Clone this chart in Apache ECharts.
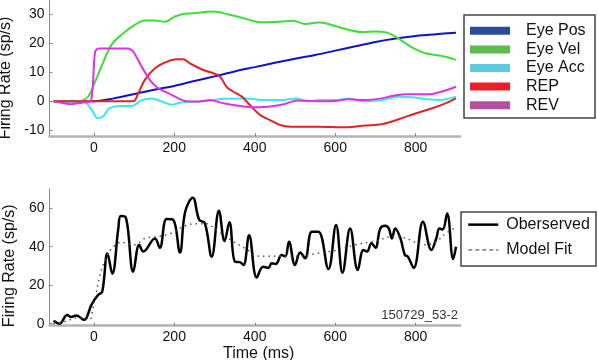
<!DOCTYPE html>
<html>
<head>
<meta charset="utf-8">
<script src="https://cdn.jsdelivr.net/npm/echarts@6/dist/echarts.min.js"></script>
<style>
  html, body { margin: 0; padding: 0; background: #fff; }
  #chart { width: 598px; height: 360px; }
</style>
</head>
<body>
<div id="chart"></div>
<script>
// tick labels
const xTicks = [0, 200, 400, 600, 800];
const topTicks = [-10, 0, 10, 20, 30];
const bottomTicks = [0, 20, 40, 60];

// top panel: kinematic components (time in ms, value in sp/s)
const eyePosT = [-100, 0, 50, 100, 150, 200, 250, 300, 350, 400, 450, 500, 550, 600, 650, 700, 750, 800, 850, 900];
const eyePosV = [0, 0, 1, 2.5, 4, 5.3, 7, 8.6, 10.3, 11.8, 13.3, 14.7, 16, 17.5, 19, 20.5, 21.7, 22.6, 23.2, 23.7];

const eyeVelT = [-100, -39, -14, -2, 19, 44, 69, 102, 127, 152, 177, 202, 222, 247, 297, 338, 380, 413, 463, 496, 525, 558, 583, 633, 666, 700, 724, 749, 774, 799, 824, 849, 874, 900];
const eyeVelV = [0, 0, 1.6, 5, 12, 19.5, 23, 26.4, 27.9, 27.9, 27.5, 29.3, 30.2, 30.4, 31, 29.9, 28.4, 27.3, 27.5, 27.8, 26.7, 27.2, 26.7, 24.7, 23.9, 24.1, 23.9, 22.4, 20.1, 18, 16.6, 16, 15.4, 14.3];

const eyeAccT = [-100, -39, -22, -5, 11, 23, 39, 69, 94, 119, 144, 169, 194, 219, 264, 297, 322, 380, 422, 463, 505, 530, 558, 600, 633, 674, 716, 758, 791, 824, 857, 900];
const eyeAccV = [0, 0, -0.3, -3, -5.9, -5.3, -2.4, -1.6, -1.6, 0.4, 1, -0.1, -1.2, -0.3, -0.1, 0.4, 0.9, 1, 0.4, 0.4, 1, -0.1, 0.4, 0.4, 1, -0.1, 0.4, 1.6, 1.4, 0.8, 0.4, 1.6];

const repT = [-100, 0, 98, 110, 127, 152, 177, 206, 222, 239, 272, 297, 314, 330, 347, 368, 388, 413, 438, 463, 488, 530, 558, 625, 674, 716, 758, 799, 841, 874, 900];
const repV = [0, 0, 0, 2.6, 7.4, 11.4, 13.4, 14.5, 14.5, 13.1, 10.8, 9.7, 8.5, 5, 3.3, 1.6, -1.3, -4.7, -6.5, -8.2, -8.8, -8.8, -8.8, -9, -8.4, -7.9, -6.2, -4.2, -2.4, -0.7, 1];

const revT = [-100, -56, -31, -8, -3, 3, 11, 85, 98, 119, 139, 160, 185, 210, 230, 260, 289, 322, 363, 405, 447, 472, 505, 555, 600, 633, 674, 716, 741, 774, 816, 841, 874, 900];
const revV = [0, -1, -0.5, 0, 4, 17, 18.2, 18.2, 17.2, 12, 7.4, 4.5, 2.8, 1, 0, -0.1, 0.4, -0.7, -1.6, -2.1, -1.6, -1, 0.3, 0, 0.1, 0.7, 0.4, 1, 1.8, 2.4, 2.4, 2.5, 3.7, 5];

// bottom panel: observed firing rate and model fit
const obsT = [-100, -85, -66, -56, -43, -24, -18, -6, 11, 21, 34, 46, 61, 67, 79, 98, 113, 123, 152, 164, 181, 197, 214, 227, 246, 262, 276, 293, 311, 325, 337, 351, 363, 372, 386, 405, 421, 434, 442, 452, 467, 476, 485, 500, 513, 525, 542, 558, 583, 602, 618, 637, 656, 670, 679, 690, 700, 712, 724, 733, 741, 749, 762, 773, 780, 795, 818, 839, 851, 859, 867, 878, 893, 900];
const obsV = [1.5, 0, 4.5, 3.5, 4.3, 2, 3, 9.7, 15, 16.6, 36.5, 26, 49.5, 56, 55.5, 27, 41, 37.5, 44.3, 39.5, 54.4, 54, 37, 58, 65.5, 54, 52.3, 34.8, 58.7, 43, 52.7, 32.2, 32, 30.5, 46, 24, 29.6, 29, 31.4, 31, 35.7, 35, 42.6, 30.5, 37, 34, 47.8, 47.8, 28.4, 51.3, 26.5, 49.5, 27.9, 38.3, 37.5, 41.8, 39.5, 49.5, 50.9, 49.5, 44.3, 49.5, 44.3, 35.7, 35, 29, 53, 38.3, 44.3, 49.5, 49, 57.3, 33.6, 40];

const fitT = [-100, -80, -60, -40, -20, -10, -3, 6, 15, 26, 44, 69, 102, 127, 160, 193, 218, 250, 280, 300, 340, 381, 414, 464, 505, 555, 600, 650, 700, 749, 780, 820, 850, 875, 900];
const fitV = [0, 0.5, 2, 3, 2.5, 2, 7, 16, 25, 32, 39, 42.3, 41, 44.3, 45.3, 47, 50, 52, 52, 49.5, 43.6, 38.5, 35, 35, 35, 36.5, 38, 41, 43, 45.6, 44, 41, 42.5, 47, 50];

const pairs = (t, v) => t.map((x, i) => [x, v[i]]);

const font = 'Liberation Sans, Arial, Helvetica, sans-serif';
const chart = echarts.init(document.getElementById('chart'), null, { renderer: 'canvas' });

const xAxisBase = {
    type: 'value',
    min: -110,
    max: 910,
    axisLine: { show: true, onZero: false, lineStyle: { color: '#b4b4b4', width: 2.5 } },
    axisTick: { show: true, inside: true, length: 3, customValues: xTicks, lineStyle: { color: '#888' } },
    axisLabel: { customValues: xTicks, color: '#111', fontSize: 14, fontFamily: font, margin: 5 },
    splitLine: { show: false }
};

const yAxisBase = {
    type: 'value',
    nameLocation: 'middle',
    name: 'Firing Rate (sp/s)',
    nameRotate: 90,
    axisLine: { show: true, onZero: false, lineStyle: { color: '#888', width: 1 } },
    splitLine: { show: false }
};

const lineBase = { type: 'line', showSymbol: false, symbol: 'none', smooth: 0.35 };

const option = {
    animation: false,
    backgroundColor: '#fff',
    grid: [
        { left: 49.5, top: 0, width: 410.5, height: 136, outerBoundsMode: 'none' },
        { left: 49.5, top: 189, width: 410.5, height: 136.6, outerBoundsMode: 'none' }
    ],
    xAxis: [
        Object.assign({ gridIndex: 0 }, xAxisBase),
        Object.assign({ gridIndex: 1, name: 'Time (ms)', nameLocation: 'middle', nameGap: 17,
            nameTextStyle: { color: '#111', fontSize: 16, fontFamily: font, verticalAlign: 'top', padding: [0, 0, 0, 8] } }, xAxisBase)
    ],
    yAxis: [
        Object.assign({}, yAxisBase, {
            gridIndex: 0, min: -12, max: 35, nameGap: 30,
            nameTextStyle: { color: '#111', fontSize: 16, fontFamily: font, padding: [0, 20, 0, 0] },
            axisTick: { show: true, inside: true, length: 3, customValues: topTicks, lineStyle: { color: '#888' } },
            axisLabel: { customValues: topTicks, color: '#111', fontSize: 14, fontFamily: font, margin: 5 }
        }),
        Object.assign({}, yAxisBase, {
            gridIndex: 1, min: -1, max: 70, nameGap: 30,
            nameTextStyle: { color: '#111', fontSize: 16, fontFamily: font, padding: [0, 17, 0, 0] },
            axisTick: { show: true, inside: true, length: 3, customValues: bottomTicks, lineStyle: { color: '#888' } },
            axisLabel: { customValues: bottomTicks, color: '#111', fontSize: 14, fontFamily: font, margin: 5 }
        })
    ],
    legend: [
        {
            orient: 'vertical',
            left: 470,
            top: 21.5,
            padding: 0,
            itemGap: 0,
            itemWidth: 40,
            itemHeight: 8,
            icon: 'rect',
            textStyle: { color: '#111', fontSize: 16, fontFamily: font, lineHeight: 18.6, padding: [0, 0, 0, 11] },
            data: [
                { name: 'Eye Pos', itemStyle: { color: '#2c4a9c' } },
                { name: 'Eye Vel', itemStyle: { color: '#5dbd4c' } },
                { name: 'Eye Acc', itemStyle: { color: '#5ccbe0' } },
                { name: 'REP', itemStyle: { color: '#e8202a' } },
                { name: 'REV', itemStyle: { color: '#b450a4' } }
            ]
        },
        {
            orient: 'vertical',
            left: 467,
            top: 212,
            padding: 0,
            itemGap: 0,
            itemWidth: 30,
            itemHeight: 10,
            textStyle: { color: '#111', fontSize: 16, fontFamily: font, lineHeight: 25.3, padding: [0, 0, 0, 3] },
            data: [
                { name: 'Oberserved', icon: 'inherit', itemStyle: { color: 'rgba(0,0,0,0)', borderWidth: 0 }, lineStyle: { width: 2.5, color: '#000' } },
                { name: 'Model Fit', icon: 'inherit', itemStyle: { color: 'rgba(0,0,0,0)', borderWidth: 0 }, lineStyle: { width: 1, color: '#333', type: [4, 3] } }
            ]
        }
    ],
    graphic: [
        { type: 'rect', shape: { x: 464, y: 15, width: 131, height: 103 }, style: { fill: 'none', stroke: '#444', lineWidth: 1.5 }, silent: true },
        { type: 'rect', shape: { x: 461, y: 212, width: 135, height: 54 }, style: { fill: 'none', stroke: '#444', lineWidth: 1.5 }, silent: true },
        { type: 'text', x: 458, y: 315, style: { text: '150729_53-2', fill: '#333', font: '13px ' + font, textAlign: 'right', textVerticalAlign: 'middle' }, silent: true }
    ],
    series: [
        Object.assign({}, lineBase, { name: 'Eye Pos', xAxisIndex: 0, yAxisIndex: 0, data: pairs(eyePosT, eyePosV), lineStyle: { color: '#1212c4', width: 2 }, itemStyle: { color: '#1212c4' } }),
        Object.assign({}, lineBase, { name: 'Eye Vel', xAxisIndex: 0, yAxisIndex: 0, data: pairs(eyeVelT, eyeVelV), lineStyle: { color: '#3edc3a', width: 2 }, itemStyle: { color: '#3edc3a' } }),
        Object.assign({}, lineBase, { name: 'Eye Acc', xAxisIndex: 0, yAxisIndex: 0, data: pairs(eyeAccT, eyeAccV), lineStyle: { color: '#3ee6f0', width: 2 }, itemStyle: { color: '#3ee6f0' } }),
        Object.assign({}, lineBase, { name: 'REP', xAxisIndex: 0, yAxisIndex: 0, data: pairs(repT, repV), lineStyle: { color: '#e02424', width: 2 }, itemStyle: { color: '#e02424' } }),
        Object.assign({}, lineBase, { name: 'REV', xAxisIndex: 0, yAxisIndex: 0, data: pairs(revT, revV), smooth: 0.2, lineStyle: { color: '#e030e0', width: 2 }, itemStyle: { color: '#e030e0' } }),
        Object.assign({}, lineBase, { name: 'Oberserved', xAxisIndex: 1, yAxisIndex: 1, data: pairs(obsT, obsV), smooth: 0.4, lineStyle: { color: '#000', width: 2.5 }, itemStyle: { color: '#000' } }),
        Object.assign({}, lineBase, { name: 'Model Fit', xAxisIndex: 1, yAxisIndex: 1, data: pairs(fitT, fitV), lineStyle: { color: '#555', width: 1.5, type: [1.5, 4] }, itemStyle: { color: '#555' } })
    ]
};

chart.setOption(option);
</script>
</body>
</html>
